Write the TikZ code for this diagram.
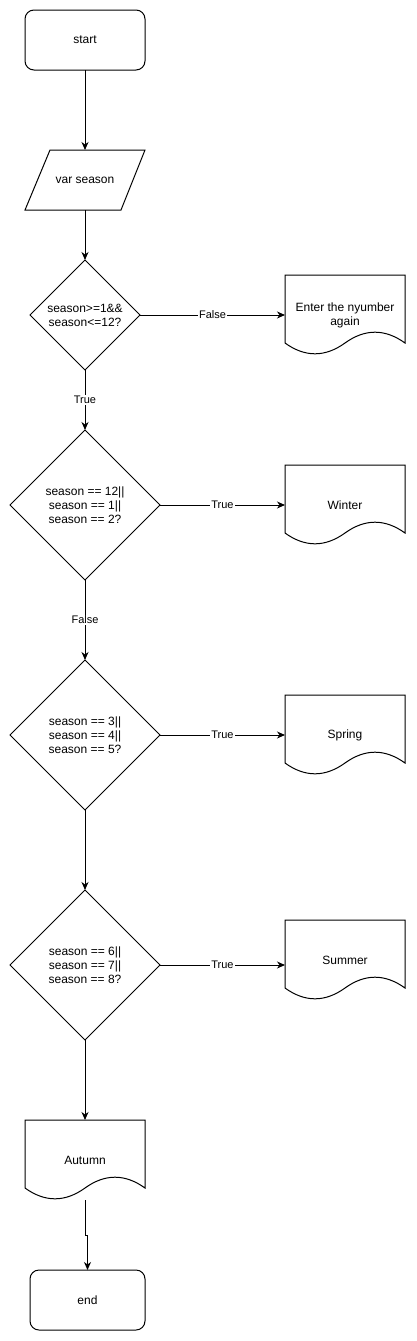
\documentclass[tikz,border=0pt]{standalone}
\usepackage{fontspec}
\setmainfont{Liberation Sans}
\usetikzlibrary{shapes.geometric,arrows.meta,calc}
\tikzset{
  every node/.style={font=\fontsize{12}{14}\selectfont, align=center, outer sep=0pt},
  line/.style={line width=1pt, draw=black},
  arr/.style={line, -{Stealth[length=8pt,width=7pt,inset=2.5pt]}},
  term/.style={draw, line width=1pt, rounded corners=9pt, minimum height=60pt},
  plainbox/.style={minimum width=120pt, minimum height=60pt, inner sep=0pt},
  docbox/.style={minimum width=120pt, minimum height=80pt, inner sep=0pt},
  decision/.style={draw, line width=1pt, diamond, aspect=1, inner sep=0pt},
  elabel/.style={font=\fontsize{11}{13}\selectfont, fill=white, inner sep=1pt}
}
\newcommand{\docoutline}[1]{%
  \draw[line] ($(#1.north west)+(0,68)$) -- (#1.north west) -- (#1.north east)
    -- ($(#1.north west)+(120,68)$)
    .. controls ($(#1.north west)+(100,53.6)$) and ($(#1.north west)+(80,53.6)$) .. ($(#1.north west)+(60,68)$)
    .. controls ($(#1.north west)+(40,82.4)$) and ($(#1.north west)+(20,82.4)$) .. ($(#1.north west)+(0,68)$);}
\begin{document}
\begin{tikzpicture}[x=1pt,y=-1pt]
\useasboundingbox (0,0) rectangle (416,1341);
% nodes
\node[term, minimum width=120pt] (start) at (85,40) {start};
\node[plainbox] (inp) at (85,180) {var season};
\draw[line] ($(inp.north west)+(25,0)$) -- (inp.north east) -- ($(inp.south east)+(-24,0)$) -- (inp.south west) -- cycle;
\node[decision, minimum width=110pt, minimum height=110pt] (d1) at (85,315) {season>=1\&\&\\season<=12?};
\node[docbox] (again) at (345,315) {Enter the nyumber\\again};
\docoutline{again}
\node[decision, minimum width=150pt, minimum height=150pt] (d2) at (85,505) {season == 12||\\season == 1||\\season == 2?};
\node[docbox] (winter) at (345,505) {Winter};
\docoutline{winter}
\node[decision, minimum width=150pt, minimum height=150pt] (d3) at (85,735) {season == 3||\\season == 4||\\season == 5?};
\node[docbox] (spring) at (345,735) {Spring};
\docoutline{spring}
\node[decision, minimum width=150pt, minimum height=150pt] (d4) at (85,965) {season == 6||\\season == 7||\\season == 8?};
\node[docbox] (summer) at (345,960) {Summer};
\docoutline{summer}
\node[docbox] (autumn) at (85,1160) {Autumn};
\docoutline{autumn}
\node[term, minimum width=115pt] (endn) at (87.5,1300) {end};
% connectors
\draw[arr] (start.south) -- (inp.north);
\draw[arr] (inp.south) -- (d1.north);
\draw[arr] (d1.east) -- node[elabel]{False} (again.west);
\draw[arr] (d1.south) -- node[elabel]{True} (d2.north);
\draw[arr] (d2.east) -- node[elabel]{True} (winter.west);
\draw[arr] (d2.south) -- node[elabel]{False} (d3.north);
\draw[arr] (d3.east) -- node[elabel]{True} (spring.west);
\draw[arr] (d3.south) -- (d4.north);
\draw[arr] (d4.east) -- node[elabel]{True} (d4.east -| summer.west);
\draw[arr] (d4.south) -- (autumn.north);
\draw[arr] (autumn.south) -- ++(0,35) -| (endn.north);
\end{tikzpicture}
\end{document}
